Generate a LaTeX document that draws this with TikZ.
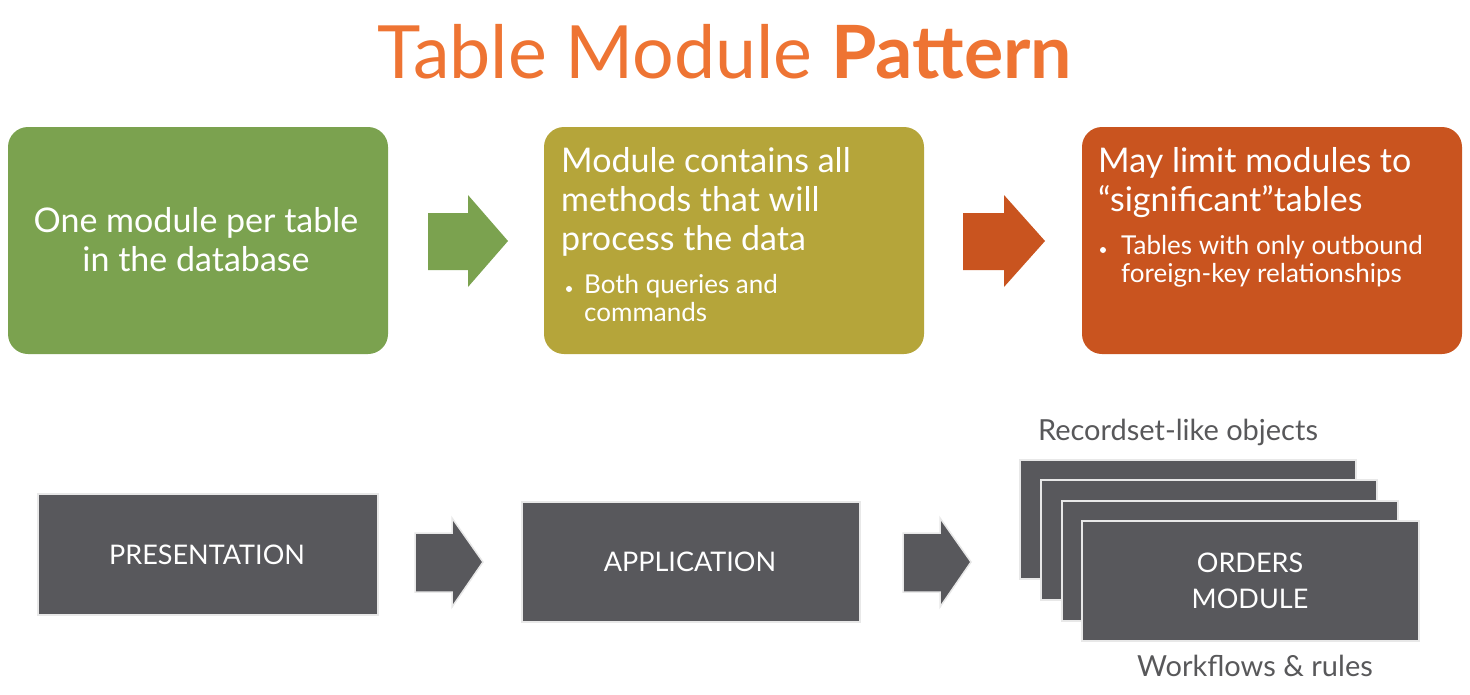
\documentclass[tikz,border=0pt]{standalone}
\usepackage{fontspec}
\setmainfont{Lato}
\definecolor{cgreen}{HTML}{7BA24F}
\definecolor{colive}{HTML}{B5A53A}
\definecolor{corange}{HTML}{C9541F}
\definecolor{ctitle}{HTML}{EE7433}
\definecolor{cgray}{HTML}{58585C}
\definecolor{ctext}{HTML}{58585A}
\definecolor{cedge}{HTML}{E8E8E8}
\begin{document}
\begin{tikzpicture}[x=1pt,y=-1pt,
  topbox/.style={rounded corners=20pt,inner sep=0pt},
  graybox/.style={fill=cgray,draw=cedge,line width=2.5pt},
  boxtext/.style={text=white,font=\fontsize{34}{39}\selectfont},
  subtext/.style={text=white,font=\fontsize{26}{28}\selectfont},
  bullet/.style={fill=white,circle,minimum size=6pt,inner sep=0pt},
  lbl/.style={text=ctext,font=\fontsize{29}{30}\selectfont},
  inner sep=0pt]
\useasboundingbox (0,0) rectangle (1470,694);
% title
\node (title) at (725,52) {\fontsize{73.5}{80}\selectfont\color{ctitle}Table Module \textbf{Pattern}};
% top boxes
\fill[cgreen,topbox] (8,127) rectangle (388,354);
\node[boxtext,align=center] (gtext) at (196,240) {One module per table\\in the database};
\fill[colive,topbox] (544,127) rectangle (924,354);
\node[boxtext,align=left,anchor=north west] (otext) at (561,147) {Module contains all\\methods that will\\process the data};
\node[bullet] (ob) at (569,289) {};
\node[subtext,align=left,anchor=north west] (osub) at (584,274) {Both queries and\\commands};
\fill[corange,topbox] (1082,127) rectangle (1462,354);
\node[boxtext,align=left,anchor=north west] (rtext) at (1098,147) {May limit modules to\\“significant”tables};
\node[bullet] (rb) at (1103,250) {};
\node[subtext,align=left,anchor=north west] (rsub) at (1121,235) {Tables with only outbound\\foreign-key relationships};
% top arrows
\fill[cgreen] (428,213) -- (468,213) -- (468,195) -- (508,241) -- (468,287) -- (468,270) -- (428,270) -- cycle;
\fill[corange] (963,213) -- (1004,213) -- (1004,195) -- (1045,241) -- (1004,287) -- (1004,270) -- (963,270) -- cycle;
% bottom
\filldraw[graybox] (38,494) rectangle (378,615);
\node[boxtext,font=\fontsize{27}{32}\selectfont] (pres) at (207,555) {PRESENTATION};
\filldraw[graybox] (522,502) rectangle (860,622);
\node[boxtext,font=\fontsize{27}{32}\selectfont] (app) at (690,562) {APPLICATION};
\filldraw[cgray,draw=cedge,line width=1.5pt] (415,533) -- (452,533) -- (452,518) -- (483,562) -- (452,607) -- (452,592) -- (415,592) -- cycle;
\filldraw[cgray,draw=cedge,line width=1.5pt] (903,533) -- (940,533) -- (940,518) -- (971,562) -- (940,607) -- (940,592) -- (903,592) -- cycle;
\filldraw[graybox] (1020,460) rectangle (1356,579);
\filldraw[graybox] (1041,480) rectangle (1377,600);
\filldraw[graybox] (1062,501) rectangle (1398,621);
\filldraw[graybox] (1082,521) rectangle (1419,641);
\node[boxtext,font=\fontsize{27}{36}\selectfont,align=center] (orders) at (1250,581) {ORDERS\\MODULE};
\node[lbl] (rec) at (1178,432) {Recordset-like objects};
\node[lbl] (wf) at (1255,666) {Workflows \& rules};
\end{tikzpicture}
\end{document}
